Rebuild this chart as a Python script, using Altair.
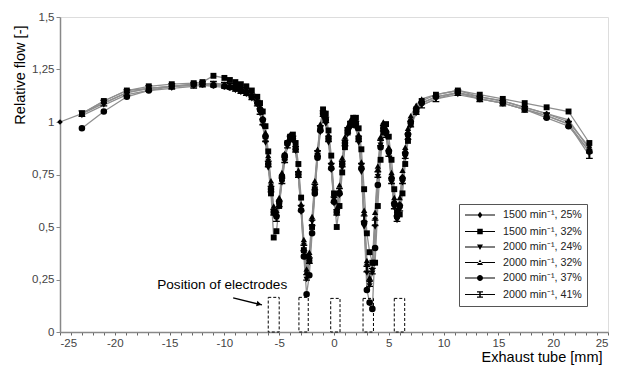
import altair as alt
import pandas as pd

# positions along the exhaust tube [mm]
x_mm = [-25, -23, -21, -18.9, -16.9, -14.8, -12.8, -12, -11, -10, -9.5, -9, -8.5, -8, -7.5, -7,
        -6.75, -6.5, -6.25, -6, -5.75, -5.5, -5.25, -5, -4.75, -4.5, -4.25, -4, -3.75, -3.5,
        -3.25, -3, -2.75, -2.5, -2.25, -2, -1.75, -1.5, -1.25, -1, -0.75, -0.5, -0.25, 0,
        0.25, 0.5, 0.75, 1, 1.25, 1.5, 1.75, 2, 2.25, 2.5, 2.75, 3, 3.25, 3.5, 3.75, 4,
        4.25, 4.5, 4.75, 5, 5.25, 5.5, 5.75, 6, 6.25, 6.5, 6.75, 7, 7.5, 8, 9.3, 11.3,
        13.3, 15.4, 17.4, 19.4, 21.4, 23.3]

s1 = [1.00, 1.04, 1.09, 1.14, 1.16, 1.17, 1.175, 1.18, 1.18, 1.175, 1.17, 1.16, 1.155, 1.15, 1.13, 1.10,
      1.06, 1.01, 0.94, 0.82, 0.70, 0.58, 0.56, 0.62, 0.74, 0.84, 0.90, 0.93, 0.93, 0.88,
      0.76, 0.60, 0.42, 0.28, 0.36, 0.53, 0.70, 0.86, 0.98, 1.05, 1.02, 0.93, 0.80, 0.64,
      0.57, 0.67, 0.81, 0.91, 0.97, 1.00, 1.01, 1.00, 0.93, 0.80, 0.56, 0.32, 0.24, 0.30, 0.54, 0.77,
      0.92, 0.99, 0.96, 0.87, 0.74, 0.62, 0.56, 0.61, 0.74, 0.86, 0.95, 1.01, 1.06, 1.09, 1.12, 1.14,
      1.12, 1.10, 1.07, 1.04, 1.00, 0.88]
s2 = [None, 1.04, 1.10, 1.15, 1.17, 1.18, 1.185, 1.19, 1.22, 1.21, 1.20, 1.19, 1.18, 1.17, 1.15, 1.12,
      1.09, 1.05, 0.98, 0.86, 0.66, 0.45, 0.48, 0.60, 0.73, 0.83, 0.90, 0.93, 0.94, 0.90,
      0.80, 0.64, 0.39, 0.36, 0.34, 0.50, 0.68, 0.84, 0.97, 1.06, 1.04, 0.96, 0.84, 0.66,
      0.50, 0.60, 0.76, 0.88, 0.95, 0.99, 1.02, 1.02, 0.97, 0.87, 0.68, 0.47, 0.38, 0.33, 0.33, 0.60,
      0.82, 0.95, 0.99, 0.93, 0.82, 0.68, 0.57, 0.56, 0.66, 0.80, 0.91, 0.99, 1.06, 1.10, 1.13, 1.15,
      1.13, 1.11, 1.09, 1.07, 1.05, 0.90]
s3 = [None, 1.03, 1.08, 1.13, 1.15, 1.16, 1.17, 1.175, 1.17, 1.165, 1.16, 1.15, 1.14, 1.13, 1.11, 1.08,
      1.04, 0.98, 0.90, 0.78, 0.66, 0.56, 0.55, 0.60, 0.71, 0.81, 0.88, 0.91, 0.91, 0.86,
      0.74, 0.57, 0.38, 0.25, 0.33, 0.50, 0.67, 0.83, 0.95, 1.02, 0.99, 0.90, 0.77, 0.61,
      0.56, 0.65, 0.78, 0.88, 0.94, 0.97, 0.98, 0.97, 0.90, 0.76, 0.50, 0.28, 0.22, 0.28, 0.50, 0.74,
      0.89, 0.96, 0.93, 0.84, 0.71, 0.59, 0.53, 0.58, 0.71, 0.83, 0.92, 0.98, 1.04, 1.08, 1.11, 1.13,
      1.11, 1.09, 1.06, 1.03, 0.99, 0.86]
s4 = [None, 1.04, 1.10, 1.15, 1.16, 1.17, 1.18, 1.18, 1.185, 1.18, 1.175, 1.17, 1.16, 1.15, 1.13, 1.10,
      1.07, 1.02, 0.95, 0.84, 0.72, 0.60, 0.58, 0.64, 0.76, 0.85, 0.91, 0.94, 0.93, 0.88,
      0.77, 0.61, 0.44, 0.30, 0.38, 0.55, 0.72, 0.87, 0.99, 1.06, 1.03, 0.94, 0.81, 0.65,
      0.59, 0.70, 0.83, 0.93, 0.98, 1.01, 1.02, 1.01, 0.94, 0.81, 0.58, 0.34, 0.26, 0.33, 0.57, 0.79,
      0.93, 1.00, 0.97, 0.88, 0.76, 0.64, 0.58, 0.64, 0.77, 0.88, 0.97, 1.03, 1.08, 1.11, 1.13, 1.15,
      1.12, 1.10, 1.07, 1.04, 1.01, 0.87]
s5 = [None, 0.97, 1.05, 1.12, 1.15, 1.17, 1.18, 1.18, 1.175, 1.17, 1.165, 1.16, 1.15, 1.14, 1.12, 1.09,
      1.06, 1.01, 0.93, 0.80, 0.68, 0.57, 0.55, 0.62, 0.74, 0.84, 0.90, 0.93, 0.92, 0.87,
      0.75, 0.58, 0.36, 0.18, 0.27, 0.47, 0.66, 0.83, 0.96, 1.04, 1.01, 0.92, 0.78, 0.62,
      0.57, 0.66, 0.80, 0.90, 0.96, 0.99, 1.00, 0.99, 0.92, 0.78, 0.52, 0.20, 0.14, 0.11, 0.40, 0.70,
      0.88, 0.97, 0.95, 0.86, 0.73, 0.61, 0.55, 0.60, 0.73, 0.85, 0.94, 1.00, 1.05, 1.09, 1.12, 1.14,
      1.11, 1.09, 1.06, 1.02, 0.98, 0.86]
s6 = [None, 1.04, 1.09, 1.14, 1.16, 1.17, 1.175, 1.18, 1.18, 1.175, 1.17, 1.16, 1.15, 1.14, 1.12, 1.09,
      1.05, 1.00, 0.92, 0.80, 0.68, 0.57, 0.54, 0.61, 0.72, 0.82, 0.89, 0.92, 0.92, 0.87,
      0.75, 0.59, 0.40, 0.26, 0.34, 0.52, 0.69, 0.85, 0.97, 1.04, 1.01, 0.92, 0.79, 0.63,
      0.57, 0.67, 0.80, 0.90, 0.96, 0.99, 1.00, 0.99, 0.92, 0.79, 0.54, 0.30, 0.23, 0.29, 0.52, 0.75,
      0.90, 0.97, 0.94, 0.85, 0.72, 0.60, 0.54, 0.59, 0.72, 0.84, 0.93, 0.99, 1.05, 1.08, 1.11, 1.14,
      1.11, 1.09, 1.06, 1.03, 0.99, 0.84]

series_names = ["1500 min\u207b\u00b9, 25%", "1500 min\u207b\u00b9, 32%", "2000 min\u207b\u00b9, 24%",
                "2000 min\u207b\u00b9, 32%", "2000 min\u207b\u00b9, 37%", "2000 min\u207b\u00b9, 41%"]

# electrode positions [mm]
elec_left = [-6.0, -3.2, -0.3, 2.65, 5.5]
elec_right = [-5.0, -2.35, 0.55, 3.6, 6.45]
elec_top = [0.165, 0.165, 0.16, 0.16, 0.16]

# annotation
note_text = ["Position of electrodes"]
note_x = [-10.2]
note_y = [0.224]
arrow_x = [-9.2]
arrow_y = [0.162]
arrow_x2 = [-6.57]
arrow_y2 = [0.129]
head_x = [-6.84]
head_y = [0.133]

rows = []
for name, ys in zip(series_names, [s1, s2, s3, s4, s5, s6]):
    for xv, yv in zip(x_mm, ys):
        if yv is not None:
            rows.append({"x": xv, "y": yv, "series": name})
df = pd.DataFrame(rows)

ibeam = "M-1,-1 L1,-1 L1,-0.6 L0.3,-0.6 L0.3,0.6 L1,0.6 L1,1 L-1,1 L-1,0.6 L-0.3,0.6 L-0.3,-0.6 L-1,-0.6 Z"
plot_shapes = ["diamond", "square", "triangle-down", "triangle-up", "circle", ibeam]
plot_sizes = [32, 46, 36, 36, 38, 34]

line_seg = "M-3,-0.09 L3,-0.09 L3,0.09 L-3,0.09 Z "
legend_shapes = [
    line_seg + "M0,-0.65 L0.5,0 L0,0.65 L-0.5,0 Z",
    line_seg + "M-0.55,-0.55 L0.55,-0.55 L0.55,0.55 L-0.55,0.55 Z",
    line_seg + "M-0.6,-0.5 L0.6,-0.5 L0,0.6 Z",
    line_seg + "M-0.6,0.5 L0.6,0.5 L0,-0.6 Z",
    line_seg + "M-0.6,0 A0.6,0.6 0 1,1 0.6,0 A0.6,0.6 0 1,1 -0.6,0 Z",
    line_seg + "M-0.6,-0.65 L0.6,-0.65 L0.6,-0.4 L0.15,-0.4 L0.15,0.4 L0.6,0.4 L0.6,0.65 L-0.6,0.65 L-0.6,0.4 L-0.15,0.4 L-0.15,-0.4 L-0.6,-0.4 Z",
]

FONT = "Liberation Sans"
xscale = alt.Scale(domain=[-25, 25], nice=False, zero=False)
yscale = alt.Scale(domain=[0, 1.5], nice=False)

x_axis = alt.Axis(
    values=list(range(-25, 26)),
    labelExpr="datum.value % 5 == 0 ? toString(datum.value) : ''",
    labelOverlap=False, labelFontSize=11.5, labelColor="#444", labelFont=FONT, labelPadding=2,
    tickSize=3, tickColor="#666", domainColor="#888", domainWidth=1.5, grid=False,
    title="Exhaust tube [mm]", titleFont=FONT, titleFontSize=14.5, titleFontWeight="normal",
    titleColor="black", titleAnchor="end", titleAlign="right", titleBaseline="middle",
    titleX=542, titleY=25,
)
y_axis = alt.Axis(
    values=[0, 0.25, 0.5, 0.75, 1, 1.25, 1.5],
    labelExpr="replace(toString(datum.value), '.', ',')",
    labelOverlap=False, labelFontSize=11.5, labelColor="#444", labelFont=FONT, labelPadding=2,
    tickSize=4, tickColor="#888", domainColor="#888", domainWidth=1.5, grid=False,
    title="Relative flow [-]", titleFont=FONT, titleFontSize=14.5, titleFontWeight="normal",
    titleColor="black", titleAlign="right", titleBaseline="middle", titleAngle=-90,
    titleX=-40, titleY=8,
)

X = alt.X("x:Q", scale=xscale, axis=x_axis)
Y = alt.Y("y:Q", scale=yscale, axis=y_axis)

base = alt.Chart(df)

lines = base.mark_line(color="#8f8f8f", strokeWidth=1.3).encode(
    x=X, y=Y, detail="series:N", order="x:Q",
)

points = base.mark_point(filled=True, color="black", opacity=1).encode(
    x=X, y=Y,
    shape=alt.Shape("series:N", scale=alt.Scale(domain=series_names, range=plot_shapes), legend=None),
    size=alt.Size("series:N", scale=alt.Scale(domain=series_names, range=plot_sizes), legend=None),
)

legend_layer = base.mark_point(filled=True, color="black", opacity=0, size=100).encode(
    x=X, y=Y,
    shape=alt.Shape(
        "series:N",
        scale=alt.Scale(domain=series_names, range=legend_shapes),
        title=None,
        legend=alt.Legend(
            orient="none", legendX=399, legendY=187,
            padding=5, strokeColor="#555", fillColor="white",
            labelFont=FONT, labelFontSize=10.7, labelColor="#222",
            symbolSize=100, symbolOpacity=1, symbolFillColor="black",
            symbolOffset=10, labelOffset=17, rowPadding=3.5,
        ),
    ),
)

elec_df = pd.DataFrame({"x": elec_left, "x2": elec_right, "y": [0] * 5, "y2": elec_top})
electrodes = alt.Chart(elec_df).mark_rect(
    fill="white", fillOpacity=0, stroke="black", strokeWidth=1, strokeDash=[3, 2]
).encode(x=X, x2="x2:Q", y=Y, y2="y2:Q")

note = alt.Chart(pd.DataFrame({"t": note_text, "x": note_x, "y": note_y})).mark_text(
    font=FONT, fontSize=13.6, color="black"
).encode(x=X, y=Y, text="t:N")

arrow = alt.Chart(pd.DataFrame({"x": arrow_x, "y": arrow_y, "x2": arrow_x2, "y2": arrow_y2})).mark_rule(
    color="black", strokeWidth=1.3
).encode(x=X, y=Y, x2="x2:Q", y2="y2:Q")

head = alt.Chart(pd.DataFrame({"x": head_x, "y": head_y})).mark_point(
    shape="triangle-right", filled=True, color="black", size=30, angle=14, opacity=1
).encode(x=X, y=Y)

chart = alt.layer(lines, points, legend_layer, electrodes, note, arrow, head).resolve_scale(
    shape="independent", size="independent"
).properties(
    width=548, height=315, autosize="none",
    padding={"left": 52, "top": 9, "right": 3, "bottom": 33},
).configure_view(
    stroke="#8a8a8a", strokeWidth=1.5
).configure(background="white")

chart.save("out.html", embed_options={"renderer": "svg", "actions": False})
